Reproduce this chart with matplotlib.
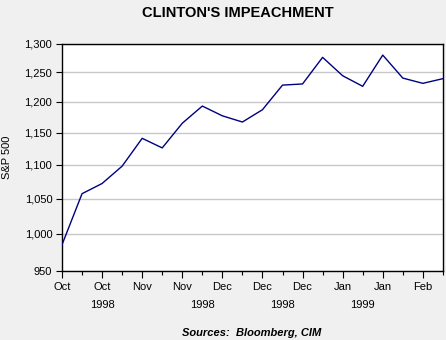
import matplotlib

matplotlib.use("Agg")
import matplotlib.pyplot as plt  # noqa: E402
from matplotlib.ticker import FixedLocator, FuncFormatter, NullFormatter, NullLocator  # noqa: E402

plt.rcParams["font.family"] = ["Liberation Sans", "DejaVu Sans"]

# weekly S&P 500 closes, Oct 1998 - Feb 1999
sp500 = [985, 1057, 1072, 1098, 1141, 1126, 1165, 1193, 1177, 1167,
         1187, 1228, 1230, 1276, 1244, 1226, 1280, 1240, 1231, 1239]
month_labels = ["Oct", "Oct", "Nov", "Nov", "Dec", "Dec", "Dec", "Jan", "Jan", "Feb"]
year_labels = ["1998", "1998", "1998", "1999"]
year_pos = [2, 7, 11, 15]
y_ticks = [950, 1000, 1050, 1100, 1150, 1200, 1250, 1300]

BG = "#F0F0F0"
LINE = "#000080"
GRID = "#C8C8C8"

fig = plt.figure(figsize=(4.46, 3.40), dpi=100)
fig.patch.set_facecolor(BG)
ax = fig.add_axes([0.139, 0.203, 0.854, 0.668])
ax.set_facecolor("white")

x = list(range(len(sp500)))
ax.plot(x, sp500, color=LINE, linewidth=1.0, zorder=3)

ax.set_yscale("log")
ax.set_ylim(950, 1300)
ax.yaxis.set_major_locator(FixedLocator(y_ticks))
ax.yaxis.set_major_formatter(FuncFormatter(lambda v, _p: f"{v:,.0f}"))
ax.yaxis.set_minor_locator(NullLocator())
ax.yaxis.set_minor_formatter(NullFormatter())
ax.yaxis.grid(True, color=GRID, linewidth=1, zorder=0)
ax.set_axisbelow(True)

ax.set_xlim(0, len(sp500) - 1)
ax.set_xticks(x[::2])
ax.set_xticklabels(month_labels)
ax.set_xticks(x, minor=True)
ax.tick_params(axis="x", which="major", direction="out", length=5, width=0.8,
               labelsize=8, colors="black", pad=3)
ax.tick_params(axis="x", which="minor", direction="out", length=3, width=0.8)
ax.tick_params(axis="y", which="major", direction="out", length=4, width=0.8,
               labelsize=8, pad=3)

for pos, label in zip(year_pos, year_labels):
    ax.text(pos, -0.15, label, transform=ax.get_xaxis_transform(),
            ha="center", va="center", fontsize=8)

for sp in ax.spines.values():
    sp.set_color("black")
    sp.set_linewidth(1)

ax.set_ylabel("S&P 500", fontsize=8, labelpad=9)
fig.text(0.534, 0.962, "CLINTON'S IMPEACHMENT", ha="center", va="center",
         fontsize=10.5, fontweight="bold")
fig.text(0.565, 0.022, "Sources:  Bloomberg, CIM", ha="center", va="center",
         fontsize=8, fontweight="bold", fontstyle="italic")

fig.savefig("out.png", facecolor=BG)
